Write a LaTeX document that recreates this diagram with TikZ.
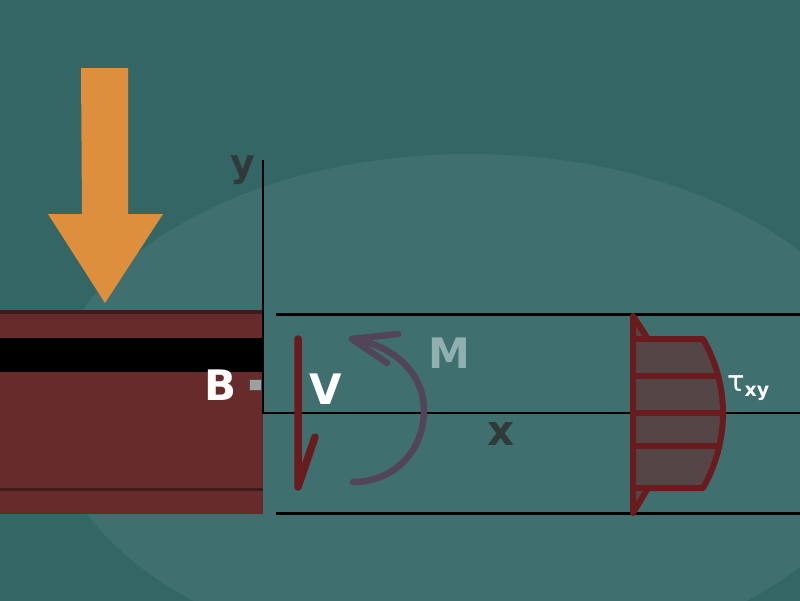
\documentclass[tikz,border=0pt]{standalone}
\usepackage{fontspec}
\setmainfont{DejaVu Sans}
\definecolor{darkbg}{HTML}{356666}
\definecolor{lightbg}{HTML}{3F6F6F}
\definecolor{beamred}{HTML}{682B2C}
\definecolor{beamline}{HTML}{3F1C1C}
\definecolor{loadorange}{HTML}{DE8F3D}
\definecolor{shearred}{HTML}{6A1B1D}
\definecolor{shearfill}{HTML}{544646}
\definecolor{momentline}{HTML}{524459}
\definecolor{darklabel}{HTML}{303A3A}
\definecolor{palelabel}{HTML}{8FB0AE}
\tikzset{
  axisline/.style={black, line width=2pt},
  edgeline/.style={black, line width=3pt},
  shearline/.style={shearred, line width=6pt, line cap=round, line join=round},
  momentarc/.style={momentline, line width=6.5pt, line cap=round, line join=round},
  biglabel/.style={font=\bfseries\fontsize{42}{42}\selectfont, inner sep=0pt},
}
\begin{document}
\begin{tikzpicture}[x=1pt,y=-1pt]
\useasboundingbox (0,0) rectangle (800,600);
\fill[darkbg] (-2,-2) rectangle (802,602);
\fill[lightbg] (470,409) ellipse [x radius=420pt, y radius=255pt];

% Beam
\fill[beamred] (-2,311) rectangle (263,514);
\fill[black] (-2,338) rectangle (263,372);
\draw[beamline, line width=4.5pt] (-2,312) -- (263,312);
\draw[beamline, line width=3pt] (-2,489) -- (263,489);

% Load arrow
\fill[loadorange] (81,68) -- (128,68) -- (128,214) -- (163,214) -- (105,303) -- (48,214) -- (82,214) -- cycle;

% Axes
\coordinate (origin) at (263,413);
\coordinate (ytip) at (263,160);
\coordinate (xtip) at (802,413);
\draw[axisline] (ytip) -- (origin) -- (xtip);
\draw[edgeline] (276,314) -- (802,314);
\draw[edgeline] (276,513) -- (802,513);

% Point B
\fill[gray!75!white, draw=gray!60!black] (249,379) rectangle (261,390);

% Shear force
\draw[shearline, line width=7.5pt] (298,339) -- (298,487) -- (315,437);

% Moment
\draw[momentarc] (353,482) .. controls (395,482) and (424,450) .. (424,410) .. controls (424,375) and (395,345) .. (352,339);
\draw[momentarc] (387,363) -- (352,339) -- (398,334);

% Shear stress profile
\fill[shearfill] (633,316) -- (648,339) -- (703,339) .. controls (715,360) and (723,385) .. (723,413) .. controls (723,441) and (715,467) .. (703,488) -- (648,488) -- (633,513) -- cycle;
\draw[shearline] (633,316) -- (648,339) -- (703,339) .. controls (715,360) and (723,385) .. (723,413) .. controls (723,441) and (715,467) .. (703,488) -- (648,488) -- (633,513) -- cycle;
\draw[shearline] (633,339) -- (648,339);
\draw[shearline] (633,376) -- (715,376);
\draw[shearline] (633,413) -- (723,413);
\draw[shearline] (633,446) -- (716,446);
\draw[shearline] (633,488) -- (648,488);

% Labels
\node[biglabel, text=darklabel, font=\bfseries\fontsize{38}{38}\selectfont] (ylabel) at (243,170) {y};
\node[biglabel, text=white] (blabel) at (221,385) {B};
\node[biglabel, text=white] (vlabel) at (326,389) {V};
\node[biglabel, text=palelabel] (mlabel) at (449,353) {M};
\node[biglabel, text=darklabel] (xlabel) at (501,434) {x};
\node[inner sep=0pt, text=white, font=\fontsize{29}{29}\selectfont] (taulabel) at (736,384) {τ};
\node[inner sep=0pt, text=white, font=\bfseries\fontsize{19}{19}\selectfont] (xylabel) at (757,393) {xy};
\end{tikzpicture}
\end{document}
